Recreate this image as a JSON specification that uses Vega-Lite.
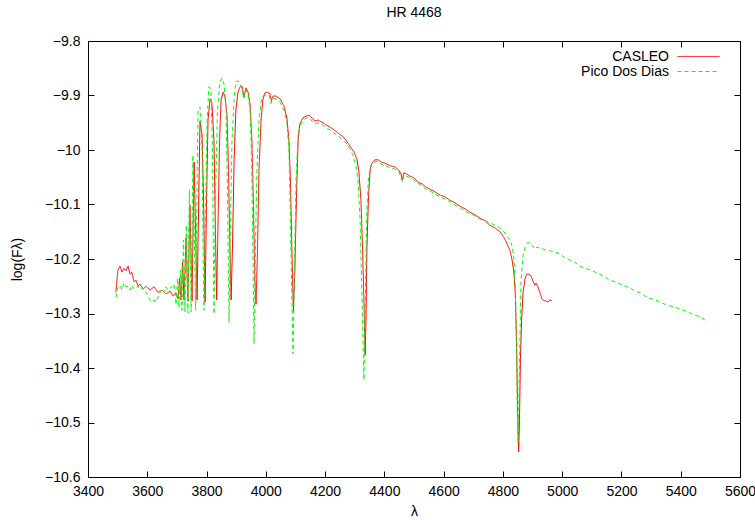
{
"$schema":"https://vega.github.io/schema/vega-lite/v6.json",
"width":652,"height":436,
"autosize":{"type":"none"},
"padding":{"left":88,"top":41,"right":15,"bottom":43},
"background":"white",
"title":{"text":"HR 4468","fontSize":14,"fontWeight":"normal","font":"Liberation Sans","color":"black","offset":14,"anchor":"middle"},
"config":{
 "view":{"stroke":"black","strokeWidth":1},
 "axis":{"domain":false,"grid":false,"tickColor":"black","tickSize":-6,"tickWidth":1,"labelFont":"Liberation Sans","labelFontSize":14,"labelColor":"black","labelFlush":false,"titleFont":"Liberation Sans","titleFontSize":14,"titleFontWeight":"normal","titleColor":"black"},
 "legend":{"labelFont":"Liberation Sans","labelFontSize":14,"labelColor":"black"}
},
"data":{"values":[
{"s":"CASLEO","l":3494,"f":-10.261},{"s":"CASLEO","l":3501,"f":-10.220},{"s":"CASLEO","l":3508,"f":-10.213},{"s":"CASLEO","l":3515,"f":-10.224},{"s":"CASLEO","l":3521,"f":-10.217},{"s":"CASLEO","l":3528,"f":-10.222},{"s":"CASLEO","l":3535,"f":-10.213},{"s":"CASLEO","l":3542,"f":-10.228},{"s":"CASLEO","l":3548,"f":-10.224},{"s":"CASLEO","l":3555,"f":-10.242},{"s":"CASLEO","l":3562,"f":-10.239},{"s":"CASLEO","l":3569,"f":-10.250},{"s":"CASLEO","l":3575,"f":-10.246},{"s":"CASLEO","l":3586,"f":-10.255},{"s":"CASLEO","l":3596,"f":-10.250},{"s":"CASLEO","l":3609,"f":-10.257},{"s":"CASLEO","l":3623,"f":-10.251},{"s":"CASLEO","l":3636,"f":-10.261},{"s":"CASLEO","l":3650,"f":-10.257},{"s":"CASLEO","l":3663,"f":-10.264},{"s":"CASLEO","l":3677,"f":-10.259},{"s":"CASLEO","l":3687,"f":-10.268},{"s":"CASLEO","l":3697,"f":-10.262},{"s":"CASLEO","l":3704,"f":-10.273},{"s":"CASLEO","l":3709,"f":-10.235},{"s":"CASLEO","l":3714,"f":-10.275},{"s":"CASLEO","l":3719,"f":-10.206},{"s":"CASLEO","l":3724,"f":-10.275},{"s":"CASLEO","l":3731,"f":-10.161},{"s":"CASLEO","l":3737,"f":-10.277},{"s":"CASLEO","l":3744,"f":-10.101},{"s":"CASLEO","l":3751,"f":-10.277},{"s":"CASLEO","l":3758,"f":-10.022},{"s":"CASLEO","l":3768,"f":-10.275},{"s":"CASLEO","l":3778,"f":-9.947},{"s":"CASLEO","l":3785,"f":-9.972},{"s":"CASLEO","l":3790,"f":-10.092},{"s":"CASLEO","l":3795,"f":-10.279},{"s":"CASLEO","l":3800,"f":-10.092},{"s":"CASLEO","l":3805,"f":-9.945},{"s":"CASLEO","l":3812,"f":-9.906},{"s":"CASLEO","l":3818,"f":-9.914},{"s":"CASLEO","l":3825,"f":-9.982},{"s":"CASLEO","l":3830,"f":-10.147},{"s":"CASLEO","l":3834,"f":-10.275},{"s":"CASLEO","l":3839,"f":-10.128},{"s":"CASLEO","l":3844,"f":-9.982},{"s":"CASLEO","l":3849,"f":-9.908},{"s":"CASLEO","l":3856,"f":-9.894},{"s":"CASLEO","l":3862,"f":-9.901},{"s":"CASLEO","l":3869,"f":-9.936},{"s":"CASLEO","l":3874,"f":-10.037},{"s":"CASLEO","l":3879,"f":-10.183},{"s":"CASLEO","l":3883,"f":-10.275},{"s":"CASLEO","l":3888,"f":-10.165},{"s":"CASLEO","l":3893,"f":-10.018},{"s":"CASLEO","l":3899,"f":-9.927},{"s":"CASLEO","l":3906,"f":-9.894},{"s":"CASLEO","l":3913,"f":-9.884},{"s":"CASLEO","l":3920,"f":-9.883},{"s":"CASLEO","l":3926,"f":-9.903},{"s":"CASLEO","l":3933,"f":-9.886},{"s":"CASLEO","l":3940,"f":-9.894},{"s":"CASLEO","l":3947,"f":-9.917},{"s":"CASLEO","l":3953,"f":-9.982},{"s":"CASLEO","l":3958,"f":-10.092},{"s":"CASLEO","l":3963,"f":-10.239},{"s":"CASLEO","l":3967,"f":-10.283},{"s":"CASLEO","l":3972,"f":-10.183},{"s":"CASLEO","l":3977,"f":-10.037},{"s":"CASLEO","l":3984,"f":-9.945},{"s":"CASLEO","l":3990,"f":-9.908},{"s":"CASLEO","l":3997,"f":-9.895},{"s":"CASLEO","l":4007,"f":-9.894},{"s":"CASLEO","l":4014,"f":-9.897},{"s":"CASLEO","l":4019,"f":-9.910},{"s":"CASLEO","l":4024,"f":-9.901},{"s":"CASLEO","l":4034,"f":-9.901},{"s":"CASLEO","l":4048,"f":-9.906},{"s":"CASLEO","l":4061,"f":-9.919},{"s":"CASLEO","l":4071,"f":-9.941},{"s":"CASLEO","l":4078,"f":-9.982},{"s":"CASLEO","l":4083,"f":-10.055},{"s":"CASLEO","l":4088,"f":-10.183},{"s":"CASLEO","l":4093,"f":-10.297},{"s":"CASLEO","l":4098,"f":-10.220},{"s":"CASLEO","l":4104,"f":-10.073},{"s":"CASLEO","l":4109,"f":-9.982},{"s":"CASLEO","l":4115,"f":-9.952},{"s":"CASLEO","l":4125,"f":-9.941},{"s":"CASLEO","l":4136,"f":-9.938},{"s":"CASLEO","l":4146,"f":-9.936},{"s":"CASLEO","l":4156,"f":-9.941},{"s":"CASLEO","l":4166,"f":-9.947},{"s":"CASLEO","l":4176,"f":-9.945},{"s":"CASLEO","l":4190,"f":-9.949},{"s":"CASLEO","l":4203,"f":-9.954},{"s":"CASLEO","l":4217,"f":-9.958},{"s":"CASLEO","l":4230,"f":-9.963},{"s":"CASLEO","l":4244,"f":-9.969},{"s":"CASLEO","l":4257,"f":-9.974},{"s":"CASLEO","l":4271,"f":-9.982},{"s":"CASLEO","l":4284,"f":-9.993},{"s":"CASLEO","l":4298,"f":-10.004},{"s":"CASLEO","l":4308,"f":-10.018},{"s":"CASLEO","l":4314,"f":-10.040},{"s":"CASLEO","l":4321,"f":-10.092},{"s":"CASLEO","l":4326,"f":-10.174},{"s":"CASLEO","l":4331,"f":-10.275},{"s":"CASLEO","l":4335,"f":-10.376},{"s":"CASLEO","l":4338,"f":-10.312},{"s":"CASLEO","l":4341,"f":-10.183},{"s":"CASLEO","l":4346,"f":-10.092},{"s":"CASLEO","l":4352,"f":-10.037},{"s":"CASLEO","l":4358,"f":-10.024},{"s":"CASLEO","l":4368,"f":-10.018},{"s":"CASLEO","l":4379,"f":-10.018},{"s":"CASLEO","l":4389,"f":-10.022},{"s":"CASLEO","l":4402,"f":-10.024},{"s":"CASLEO","l":4419,"f":-10.029},{"s":"CASLEO","l":4436,"f":-10.031},{"s":"CASLEO","l":4449,"f":-10.037},{"s":"CASLEO","l":4456,"f":-10.044},{"s":"CASLEO","l":4461,"f":-10.055},{"s":"CASLEO","l":4466,"f":-10.042},{"s":"CASLEO","l":4476,"f":-10.044},{"s":"CASLEO","l":4486,"f":-10.048},{"s":"CASLEO","l":4500,"f":-10.051},{"s":"CASLEO","l":4513,"f":-10.059},{"s":"CASLEO","l":4527,"f":-10.062},{"s":"CASLEO","l":4540,"f":-10.068},{"s":"CASLEO","l":4554,"f":-10.072},{"s":"CASLEO","l":4571,"f":-10.077},{"s":"CASLEO","l":4588,"f":-10.083},{"s":"CASLEO","l":4605,"f":-10.086},{"s":"CASLEO","l":4621,"f":-10.092},{"s":"CASLEO","l":4638,"f":-10.097},{"s":"CASLEO","l":4655,"f":-10.103},{"s":"CASLEO","l":4672,"f":-10.108},{"s":"CASLEO","l":4689,"f":-10.114},{"s":"CASLEO","l":4706,"f":-10.119},{"s":"CASLEO","l":4723,"f":-10.125},{"s":"CASLEO","l":4740,"f":-10.130},{"s":"CASLEO","l":4756,"f":-10.138},{"s":"CASLEO","l":4773,"f":-10.143},{"s":"CASLEO","l":4790,"f":-10.150},{"s":"CASLEO","l":4804,"f":-10.161},{"s":"CASLEO","l":4814,"f":-10.172},{"s":"CASLEO","l":4824,"f":-10.185},{"s":"CASLEO","l":4831,"f":-10.202},{"s":"CASLEO","l":4837,"f":-10.224},{"s":"CASLEO","l":4842,"f":-10.266},{"s":"CASLEO","l":4846,"f":-10.349},{"s":"CASLEO","l":4849,"f":-10.459},{"s":"CASLEO","l":4853,"f":-10.554},{"s":"CASLEO","l":4856,"f":-10.495},{"s":"CASLEO","l":4859,"f":-10.385},{"s":"CASLEO","l":4863,"f":-10.312},{"s":"CASLEO","l":4868,"f":-10.261},{"s":"CASLEO","l":4875,"f":-10.235},{"s":"CASLEO","l":4881,"f":-10.228},{"s":"CASLEO","l":4888,"f":-10.228},{"s":"CASLEO","l":4895,"f":-10.231},{"s":"CASLEO","l":4901,"f":-10.240},{"s":"CASLEO","l":4908,"f":-10.248},{"s":"CASLEO","l":4912,"f":-10.244},{"s":"CASLEO","l":4918,"f":-10.251},{"s":"CASLEO","l":4925,"f":-10.262},{"s":"CASLEO","l":4932,"f":-10.273},{"s":"CASLEO","l":4939,"f":-10.277},{"s":"CASLEO","l":4945,"f":-10.277},{"s":"CASLEO","l":4952,"f":-10.279},{"s":"CASLEO","l":4959,"f":-10.275},{"s":"CASLEO","l":4966,"f":-10.277},
{"s":"Pico Dos Dias","l":3494,"f":-10.270},{"s":"Pico Dos Dias","l":3501,"f":-10.253},{"s":"Pico Dos Dias","l":3508,"f":-10.248},{"s":"Pico Dos Dias","l":3515,"f":-10.257},{"s":"Pico Dos Dias","l":3521,"f":-10.244},{"s":"Pico Dos Dias","l":3528,"f":-10.251},{"s":"Pico Dos Dias","l":3535,"f":-10.250},{"s":"Pico Dos Dias","l":3542,"f":-10.257},{"s":"Pico Dos Dias","l":3548,"f":-10.248},{"s":"Pico Dos Dias","l":3555,"f":-10.255},{"s":"Pico Dos Dias","l":3562,"f":-10.253},{"s":"Pico Dos Dias","l":3569,"f":-10.250},{"s":"Pico Dos Dias","l":3575,"f":-10.257},{"s":"Pico Dos Dias","l":3586,"f":-10.253},{"s":"Pico Dos Dias","l":3596,"f":-10.261},{"s":"Pico Dos Dias","l":3602,"f":-10.268},{"s":"Pico Dos Dias","l":3609,"f":-10.275},{"s":"Pico Dos Dias","l":3616,"f":-10.279},{"s":"Pico Dos Dias","l":3623,"f":-10.275},{"s":"Pico Dos Dias","l":3629,"f":-10.279},{"s":"Pico Dos Dias","l":3636,"f":-10.270},{"s":"Pico Dos Dias","l":3643,"f":-10.262},{"s":"Pico Dos Dias","l":3650,"f":-10.255},{"s":"Pico Dos Dias","l":3656,"f":-10.261},{"s":"Pico Dos Dias","l":3663,"f":-10.251},{"s":"Pico Dos Dias","l":3670,"f":-10.257},{"s":"Pico Dos Dias","l":3677,"f":-10.253},{"s":"Pico Dos Dias","l":3683,"f":-10.251},{"s":"Pico Dos Dias","l":3690,"f":-10.246},{"s":"Pico Dos Dias","l":3694,"f":-10.257},{"s":"Pico Dos Dias","l":3697,"f":-10.284},{"s":"Pico Dos Dias","l":3702,"f":-10.235},{"s":"Pico Dos Dias","l":3707,"f":-10.290},{"s":"Pico Dos Dias","l":3712,"f":-10.220},{"s":"Pico Dos Dias","l":3717,"f":-10.294},{"s":"Pico Dos Dias","l":3722,"f":-10.165},{"s":"Pico Dos Dias","l":3727,"f":-10.297},{"s":"Pico Dos Dias","l":3732,"f":-10.138},{"s":"Pico Dos Dias","l":3737,"f":-10.299},{"s":"Pico Dos Dias","l":3742,"f":-10.073},{"s":"Pico Dos Dias","l":3748,"f":-10.297},{"s":"Pico Dos Dias","l":3754,"f":-10.009},{"s":"Pico Dos Dias","l":3763,"f":-10.294},{"s":"Pico Dos Dias","l":3771,"f":-9.930},{"s":"Pico Dos Dias","l":3778,"f":-9.921},{"s":"Pico Dos Dias","l":3785,"f":-10.000},{"s":"Pico Dos Dias","l":3788,"f":-10.165},{"s":"Pico Dos Dias","l":3791,"f":-10.294},{"s":"Pico Dos Dias","l":3796,"f":-10.147},{"s":"Pico Dos Dias","l":3802,"f":-9.945},{"s":"Pico Dos Dias","l":3808,"f":-9.884},{"s":"Pico Dos Dias","l":3815,"f":-9.890},{"s":"Pico Dos Dias","l":3820,"f":-10.000},{"s":"Pico Dos Dias","l":3825,"f":-10.301},{"s":"Pico Dos Dias","l":3830,"f":-10.092},{"s":"Pico Dos Dias","l":3837,"f":-9.927},{"s":"Pico Dos Dias","l":3845,"f":-9.875},{"s":"Pico Dos Dias","l":3852,"f":-9.868},{"s":"Pico Dos Dias","l":3859,"f":-9.879},{"s":"Pico Dos Dias","l":3866,"f":-9.927},{"s":"Pico Dos Dias","l":3871,"f":-10.092},{"s":"Pico Dos Dias","l":3876,"f":-10.317},{"s":"Pico Dos Dias","l":3881,"f":-10.128},{"s":"Pico Dos Dias","l":3886,"f":-9.982},{"s":"Pico Dos Dias","l":3893,"f":-9.908},{"s":"Pico Dos Dias","l":3899,"f":-9.875},{"s":"Pico Dos Dias","l":3906,"f":-9.873},{"s":"Pico Dos Dias","l":3913,"f":-9.877},{"s":"Pico Dos Dias","l":3920,"f":-9.890},{"s":"Pico Dos Dias","l":3926,"f":-9.905},{"s":"Pico Dos Dias","l":3933,"f":-9.890},{"s":"Pico Dos Dias","l":3940,"f":-9.899},{"s":"Pico Dos Dias","l":3947,"f":-9.927},{"s":"Pico Dos Dias","l":3952,"f":-10.018},{"s":"Pico Dos Dias","l":3957,"f":-10.202},{"s":"Pico Dos Dias","l":3960,"f":-10.356},{"s":"Pico Dos Dias","l":3965,"f":-10.183},{"s":"Pico Dos Dias","l":3970,"f":-10.037},{"s":"Pico Dos Dias","l":3977,"f":-9.945},{"s":"Pico Dos Dias","l":3984,"f":-9.912},{"s":"Pico Dos Dias","l":3990,"f":-9.901},{"s":"Pico Dos Dias","l":4001,"f":-9.899},{"s":"Pico Dos Dias","l":4011,"f":-9.899},{"s":"Pico Dos Dias","l":4017,"f":-9.914},{"s":"Pico Dos Dias","l":4024,"f":-9.905},{"s":"Pico Dos Dias","l":4034,"f":-9.906},{"s":"Pico Dos Dias","l":4048,"f":-9.912},{"s":"Pico Dos Dias","l":4061,"f":-9.927},{"s":"Pico Dos Dias","l":4071,"f":-9.949},{"s":"Pico Dos Dias","l":4078,"f":-10.000},{"s":"Pico Dos Dias","l":4083,"f":-10.128},{"s":"Pico Dos Dias","l":4088,"f":-10.275},{"s":"Pico Dos Dias","l":4092,"f":-10.374},{"s":"Pico Dos Dias","l":4097,"f":-10.202},{"s":"Pico Dos Dias","l":4102,"f":-10.055},{"s":"Pico Dos Dias","l":4109,"f":-9.972},{"s":"Pico Dos Dias","l":4115,"f":-9.956},{"s":"Pico Dos Dias","l":4125,"f":-9.947},{"s":"Pico Dos Dias","l":4136,"f":-9.941},{"s":"Pico Dos Dias","l":4146,"f":-9.941},{"s":"Pico Dos Dias","l":4156,"f":-9.947},{"s":"Pico Dos Dias","l":4166,"f":-9.952},{"s":"Pico Dos Dias","l":4176,"f":-9.950},{"s":"Pico Dos Dias","l":4190,"f":-9.954},{"s":"Pico Dos Dias","l":4203,"f":-9.960},{"s":"Pico Dos Dias","l":4217,"f":-9.963},{"s":"Pico Dos Dias","l":4230,"f":-9.969},{"s":"Pico Dos Dias","l":4244,"f":-9.974},{"s":"Pico Dos Dias","l":4257,"f":-9.980},{"s":"Pico Dos Dias","l":4271,"f":-9.987},{"s":"Pico Dos Dias","l":4284,"f":-9.998},{"s":"Pico Dos Dias","l":4294,"f":-10.009},{"s":"Pico Dos Dias","l":4304,"f":-10.028},{"s":"Pico Dos Dias","l":4311,"f":-10.055},{"s":"Pico Dos Dias","l":4318,"f":-10.128},{"s":"Pico Dos Dias","l":4323,"f":-10.239},{"s":"Pico Dos Dias","l":4328,"f":-10.349},{"s":"Pico Dos Dias","l":4331,"f":-10.422},{"s":"Pico Dos Dias","l":4335,"f":-10.312},{"s":"Pico Dos Dias","l":4338,"f":-10.202},{"s":"Pico Dos Dias","l":4341,"f":-10.110},{"s":"Pico Dos Dias","l":4346,"f":-10.055},{"s":"Pico Dos Dias","l":4352,"f":-10.033},{"s":"Pico Dos Dias","l":4358,"f":-10.024},{"s":"Pico Dos Dias","l":4368,"f":-10.022},{"s":"Pico Dos Dias","l":4379,"f":-10.020},{"s":"Pico Dos Dias","l":4389,"f":-10.026},{"s":"Pico Dos Dias","l":4402,"f":-10.028},{"s":"Pico Dos Dias","l":4419,"f":-10.033},{"s":"Pico Dos Dias","l":4436,"f":-10.035},{"s":"Pico Dos Dias","l":4449,"f":-10.040},{"s":"Pico Dos Dias","l":4456,"f":-10.050},{"s":"Pico Dos Dias","l":4461,"f":-10.059},{"s":"Pico Dos Dias","l":4466,"f":-10.046},{"s":"Pico Dos Dias","l":4476,"f":-10.048},{"s":"Pico Dos Dias","l":4486,"f":-10.051},{"s":"Pico Dos Dias","l":4500,"f":-10.055},{"s":"Pico Dos Dias","l":4513,"f":-10.061},{"s":"Pico Dos Dias","l":4527,"f":-10.066},{"s":"Pico Dos Dias","l":4540,"f":-10.072},{"s":"Pico Dos Dias","l":4554,"f":-10.075},{"s":"Pico Dos Dias","l":4571,"f":-10.081},{"s":"Pico Dos Dias","l":4588,"f":-10.086},{"s":"Pico Dos Dias","l":4605,"f":-10.090},{"s":"Pico Dos Dias","l":4621,"f":-10.095},{"s":"Pico Dos Dias","l":4638,"f":-10.101},{"s":"Pico Dos Dias","l":4655,"f":-10.106},{"s":"Pico Dos Dias","l":4672,"f":-10.112},{"s":"Pico Dos Dias","l":4689,"f":-10.117},{"s":"Pico Dos Dias","l":4706,"f":-10.121},{"s":"Pico Dos Dias","l":4723,"f":-10.127},{"s":"Pico Dos Dias","l":4740,"f":-10.130},{"s":"Pico Dos Dias","l":4756,"f":-10.134},{"s":"Pico Dos Dias","l":4773,"f":-10.138},{"s":"Pico Dos Dias","l":4790,"f":-10.143},{"s":"Pico Dos Dias","l":4804,"f":-10.150},{"s":"Pico Dos Dias","l":4814,"f":-10.158},{"s":"Pico Dos Dias","l":4824,"f":-10.165},{"s":"Pico Dos Dias","l":4831,"f":-10.176},{"s":"Pico Dos Dias","l":4837,"f":-10.198},{"s":"Pico Dos Dias","l":4842,"f":-10.257},{"s":"Pico Dos Dias","l":4846,"f":-10.367},{"s":"Pico Dos Dias","l":4849,"f":-10.495},{"s":"Pico Dos Dias","l":4851,"f":-10.536},{"s":"Pico Dos Dias","l":4854,"f":-10.459},{"s":"Pico Dos Dias","l":4858,"f":-10.330},{"s":"Pico Dos Dias","l":4861,"f":-10.239},{"s":"Pico Dos Dias","l":4868,"f":-10.193},{"s":"Pico Dos Dias","l":4875,"f":-10.178},{"s":"Pico Dos Dias","l":4881,"f":-10.171},{"s":"Pico Dos Dias","l":4888,"f":-10.169},{"s":"Pico Dos Dias","l":4898,"f":-10.174},{"s":"Pico Dos Dias","l":4908,"f":-10.182},{"s":"Pico Dos Dias","l":4915,"f":-10.178},{"s":"Pico Dos Dias","l":4925,"f":-10.180},{"s":"Pico Dos Dias","l":4942,"f":-10.183},{"s":"Pico Dos Dias","l":4959,"f":-10.185},{"s":"Pico Dos Dias","l":4976,"f":-10.187},{"s":"Pico Dos Dias","l":4993,"f":-10.191},{"s":"Pico Dos Dias","l":5010,"f":-10.198},{"s":"Pico Dos Dias","l":5026,"f":-10.202},{"s":"Pico Dos Dias","l":5043,"f":-10.206},{"s":"Pico Dos Dias","l":5060,"f":-10.213},{"s":"Pico Dos Dias","l":5077,"f":-10.217},{"s":"Pico Dos Dias","l":5094,"f":-10.220},{"s":"Pico Dos Dias","l":5111,"f":-10.224},{"s":"Pico Dos Dias","l":5128,"f":-10.228},{"s":"Pico Dos Dias","l":5144,"f":-10.233},{"s":"Pico Dos Dias","l":5161,"f":-10.239},{"s":"Pico Dos Dias","l":5178,"f":-10.242},{"s":"Pico Dos Dias","l":5195,"f":-10.246},{"s":"Pico Dos Dias","l":5212,"f":-10.250},{"s":"Pico Dos Dias","l":5229,"f":-10.253},{"s":"Pico Dos Dias","l":5246,"f":-10.259},{"s":"Pico Dos Dias","l":5263,"f":-10.262},{"s":"Pico Dos Dias","l":5279,"f":-10.268},{"s":"Pico Dos Dias","l":5296,"f":-10.272},{"s":"Pico Dos Dias","l":5313,"f":-10.275},{"s":"Pico Dos Dias","l":5330,"f":-10.279},{"s":"Pico Dos Dias","l":5347,"f":-10.283},{"s":"Pico Dos Dias","l":5364,"f":-10.286},{"s":"Pico Dos Dias","l":5381,"f":-10.288},{"s":"Pico Dos Dias","l":5398,"f":-10.292},{"s":"Pico Dos Dias","l":5414,"f":-10.295},{"s":"Pico Dos Dias","l":5431,"f":-10.299},{"s":"Pico Dos Dias","l":5448,"f":-10.303},{"s":"Pico Dos Dias","l":5465,"f":-10.306},{"s":"Pico Dos Dias","l":5482,"f":-10.312}
]},
"layer":[
 {"mark":{"type":"line","strokeWidth":1},
  "encoding":{
   "x":{"field":"l","type":"quantitative","scale":{"domain":[3400,5600],"nice":false,"zero":false},
        "axis":{"orient":"bottom","values":[3400,3600,3800,4000,4200,4400,4600,4800,5000,5200,5400,5600],"format":"d","title":"λ","labelPadding":13,"titlePadding":6}},
   "y":{"field":"f","type":"quantitative","scale":{"domain":[-10.6,-9.8],"nice":false,"zero":false},
        "axis":{"orient":"left","values":[-10.6,-10.5,-10.4,-10.3,-10.2,-10.1,-10,-9.9,-9.8],"format":".3~f","title":"log(Fλ)","labelPadding":14,"titlePadding":20}},
   "color":{"field":"s","type":"nominal","scale":{"domain":["CASLEO","Pico Dos Dias"],"range":["#ff0000","#00ff00"]},
        "legend":{"title":null,"orient":"none","legendX":603,"legendY":8,"symbolType":"M-3,0H3","symbolSize":196,"symbolStrokeWidth":1,"labelAlign":"right","labelOffset":-37,"rowPadding":-4,"padding":0}},
   "strokeDash":{"field":"s","type":"nominal","scale":{"domain":["CASLEO","Pico Dos Dias"],"range":[[1,0],[4,3]]},
        "legend":{"title":null,"orient":"none","legendX":603,"legendY":8,"symbolType":"M-3,0H3","symbolSize":196,"symbolStrokeWidth":1,"labelAlign":"right","labelOffset":-37,"rowPadding":-4,"padding":0}}
  }},
 {"mark":{"type":"line","opacity":0},
  "encoding":{
   "x":{"field":"l","type":"quantitative","axis":{"orient":"top","values":[3400,3600,3800,4000,4200,4400,4600,4800,5000,5200,5400,5600],"labels":false,"title":null}},
   "y":{"field":"f","type":"quantitative","axis":{"orient":"right","values":[-10.6,-10.5,-10.4,-10.3,-10.2,-10.1,-10,-9.9,-9.8],"labels":false,"title":null}}
  }}
],
"resolve":{"axis":{"x":"independent","y":"independent"}}
}
